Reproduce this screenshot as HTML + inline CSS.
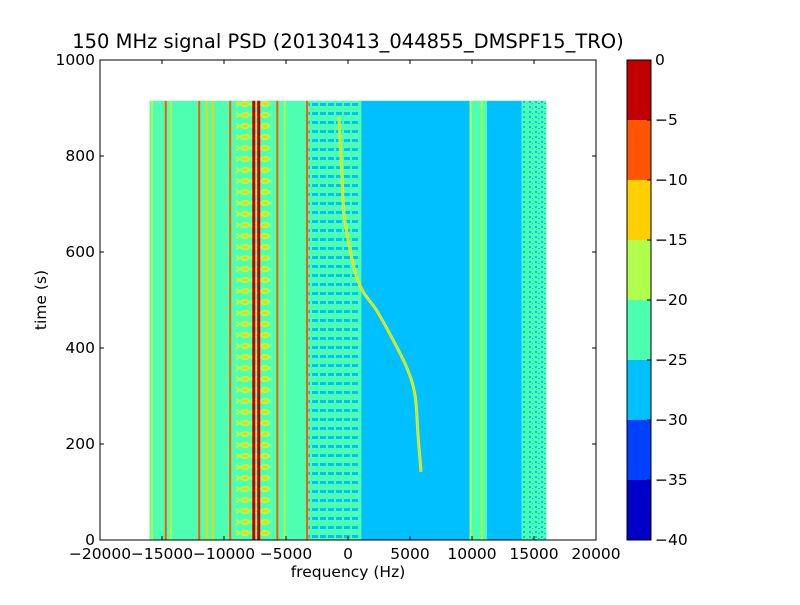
<!DOCTYPE html>
<html><head><meta charset="utf-8"><style>
body{margin:0;background:#fff;width:800px;height:600px;overflow:hidden}
text{font-family:"DejaVu Sans","Liberation Sans",sans-serif;fill:#000}
</style></head><body>
<svg id="chart" width="800" height="600" viewBox="0 0 800 600" xmlns="http://www.w3.org/2000/svg">
<defs>
<pattern id="stripes" width="8" height="9" patternUnits="userSpaceOnUse">
<rect width="8" height="9" fill="#4dffb0"/><rect y="4" width="6" height="3" fill="#00c0ff"/>
</pattern>
<pattern id="noise" width="6" height="5" patternUnits="userSpaceOnUse">
<rect width="6" height="5" fill="#4dffb0"/><rect x="1" y="1" width="2" height="2" fill="#00c0ff"/><rect x="4" y="3" width="2" height="1" fill="#00c0ff"/>
</pattern>
<pattern id="blobs" width="10" height="11" patternUnits="userSpaceOnUse">
<rect width="10" height="11" fill="#4dffb0"/><ellipse cx="5" cy="5" rx="5" ry="3" fill="#b0ff4d"/><ellipse cx="5" cy="5" rx="3" ry="1.5" fill="#ffd000"/>
</pattern>
</defs>
<text x="348" y="48" font-size="19.5" text-anchor="middle">150 MHz signal PSD (20130413_044855_DMSPF15_TRO)</text>
<g id="plot"></g>
<g id="axes"></g>
<g id="cbar"></g>
</svg>
<script>
const bandStart=[-16000,-9000,-6200,-3200,1000,9800,11200,14000];
const bandEnd=[-9000,-6200,-3200,1000,9800,11200,14000,16000];
const bandLevel=[-22,-18,-22,-24,-27,-22,-27,-24];
const lineFreqs=[-15800,-14700,-14300,-12000,-11400,-10900,-9500,-7600,-7200,-5700,-5100,-3300,1000,9900,10400,10800,14400,15000];
const lineLevels=[-18,-8,-18,-8,-13,-13,-6,-2,-2,-8,-18,-8,-22,-18,-22,-18,-22,-22];
const curveTimes=[881,756,665,540,477,421,358,302,219,142];
const curveFreqs=[-726,-484,-242,806,2339,3548,4758,5403,5645,5887];
const xTicks=[-20000,-15000,-10000,-5000,0,5000,10000,15000,20000];
const yTicks=[0,200,400,600,800,1000];
const cbTicks=[0,-5,-10,-15,-20,-25,-30,-35,-40];
const cbColors=["#0000c8","#0040ff","#00c0ff","#4dffb0","#b0ff4d","#ffd000","#ff5500","#c00000"];
const X0=100,X1=596,Y0=540,Y1=60,TMAX=915;
const sx=f=>X0+(f+20000)/40000*(X1-X0);
const sy=t=>Y0-t/1000*(Y0-Y1);
const col=l=>cbColors[Math.max(0,Math.min(7,Math.floor((l+40)/5)))];
const NS="http://www.w3.org/2000/svg";
function mk(tag,attrs,parent){const e=document.createElementNS(NS,tag);for(const k in attrs)e.setAttribute(k,attrs[k]);parent.appendChild(e);return e;}
const plot=document.getElementById('plot');
bandStart.forEach((s,i)=>{
 let fill=col(bandLevel[i]);
 if(i===1)fill="url(#blobs)";
 if(i===3)fill="url(#stripes)";
 if(i===7)fill="url(#noise)";
 const r=mk('rect',{x:sx(s),y:sy(TMAX),width:sx(bandEnd[i])-sx(s),height:sy(0)-sy(TMAX),fill:fill},plot);
 
 
});
lineFreqs.forEach((f,i)=>{
 const w=lineLevels[i]>-5?3:2;
 const r=mk('rect',{x:sx(f)-w/2,y:sy(TMAX),width:w,height:sy(0)-sy(TMAX),fill:col(lineLevels[i])},plot);
 
 
});
const P=curveFreqs.map((f,i)=>[sx(f),sy(curveTimes[i])]);
let d='M'+P[0][0]+','+P[0][1];
for(let i=0;i<P.length-1;i++){
 const p0=P[Math.max(0,i-1)],p1=P[i],p2=P[i+1],p3=P[Math.min(P.length-1,i+2)];
 const c1=[p1[0]+(p2[0]-p0[0])/6,p1[1]+(p2[1]-p0[1])/6];
 const c2=[p2[0]-(p3[0]-p1[0])/6,p2[1]-(p3[1]-p1[1])/6];
 d+=' C'+c1.join(',')+' '+c2.join(',')+' '+p2.join(',');
}
const c=mk('path',{d:d,fill:'none',stroke:'#b0ff4d','stroke-width':3},plot);


const c2=mk('path',{d:d,fill:'none',stroke:'#ffd000','stroke-width':1.2},plot);


const ax=document.getElementById('axes');
const fr=mk('rect',{x:X0,y:Y1,width:X1-X0,height:Y0-Y1,fill:'none',stroke:'#000'},ax);


xTicks.forEach(v=>{
 const x=sx(v);
 mk('line',{x1:x,x2:x,y1:Y0,y2:Y0-4,stroke:'#000'},ax);
 mk('line',{x1:x,x2:x,y1:Y1,y2:Y1+4,stroke:'#000'},ax);
 const t=mk('text',{x:x,y:Y0+19,'font-size':15.5,'text-anchor':'middle'},ax);
 t.textContent=String(v).replace('-','\u2212');
 
 
});
yTicks.forEach(v=>{
 const y=sy(v);
 mk('line',{x1:X0,x2:X0+4,y1:y,y2:y,stroke:'#000'},ax);
 mk('line',{x1:X1,x2:X1-4,y1:y,y2:y,stroke:'#000'},ax);
 const t=mk('text',{x:X0-5,y:y+5,'font-size':15.5,'text-anchor':'end'},ax);
 t.textContent=v;
 
 
});
const xl=mk('text',{x:348,y:577,'font-size':15.5,'text-anchor':'middle'},ax);
xl.textContent='frequency (Hz)';


const yl=mk('text',{x:46,y:300,'font-size':15.5,'text-anchor':'middle',transform:'rotate(-90 46 300)'},ax);
yl.textContent='time (s)';


const cb=document.getElementById('cbar');
const CX=627,CW=24,cy=l=>Y0-(l+40)/40*(Y0-Y1);
cbColors.forEach((cc,i)=>{
 const lo=-40+i*5;
 const r=mk('rect',{x:CX,y:cy(lo+5),width:CW,height:cy(lo)-cy(lo+5),fill:cc},cb);
 
 
});
const cf=mk('rect',{x:CX,y:Y1,width:CW,height:Y0-Y1,fill:'none',stroke:'#000'},cb);


cbTicks.forEach(v=>{
 const y=cy(v);
 mk('line',{x1:CX+CW,x2:CX+CW-4,y1:y,y2:y,stroke:'#000'},cb);
 const t=mk('text',{x:CX+CW+4,y:y+5,'font-size':15.5},cb);
 t.textContent=String(v).replace('-','\u2212');
 
 
});
</script>
</body></html>
